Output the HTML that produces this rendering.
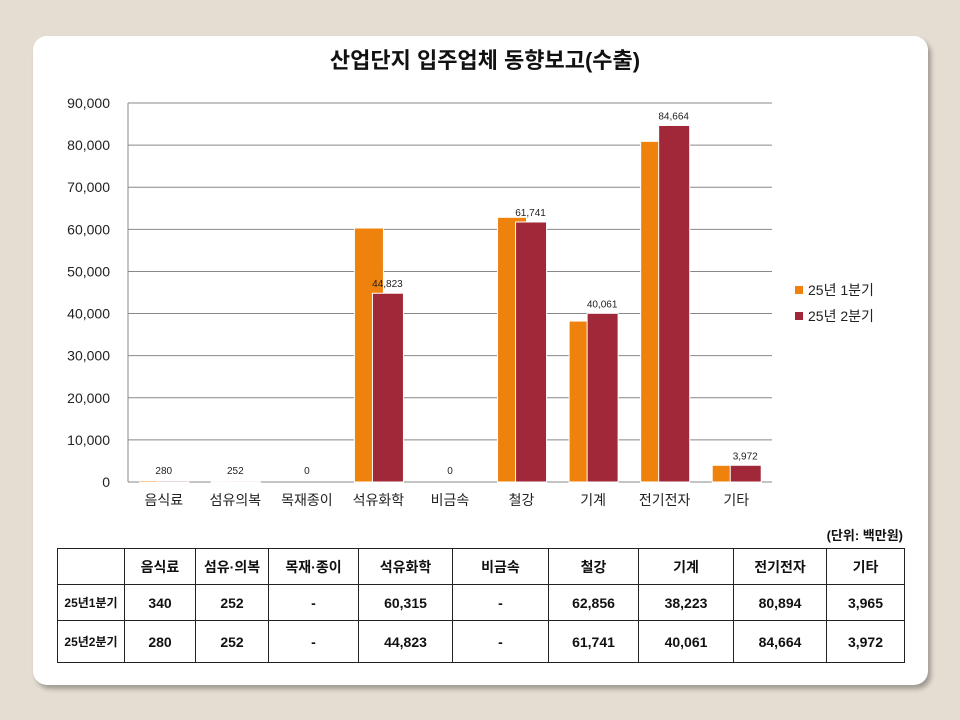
<!DOCTYPE html>
<html><head><meta charset="utf-8"><style>
body{margin:0;width:960px;height:720px;background:#e4ddd2;position:relative;overflow:hidden;font-family:"Liberation Sans","Noto Sans CJK KR",sans-serif}
.card{position:absolute;left:33px;top:36px;width:895px;height:649px;background:#fff;border-radius:14px;box-shadow:3px 4px 5px rgba(0,0,0,.3)}
table{position:absolute;left:57px;top:548px;border-collapse:collapse;font-family:"Liberation Sans","Noto Sans CJK KR",sans-serif}
td{border:1px solid #222;text-align:center;padding:0;font-size:14px;font-weight:bold;color:#111}
</style></head><body>
<div class="card"></div>
<svg width="960" height="720" style="position:absolute;left:0;top:0" id="chart">
<text x="485" y="68" text-anchor="middle" font-size="22" font-weight="bold" fill="#111">산업단지 입주업체 동향보고(수출)</text>
<g id="grid"></g><g id="bars"></g><g id="labels"></g>
<rect x="795" y="286" width="8" height="8" fill="#ee820d"/>
<text x="808" y="295" font-size="14" fill="#222">25년 1분기</text>
<rect x="795" y="312" width="8" height="8" fill="#a02838"/>
<text x="808" y="321" font-size="14" fill="#222">25년 2분기</text>
<text x="903" y="540" text-anchor="end" font-size="13" font-weight="bold" fill="#111">(단위: 백만원)</text>
</svg>
<table>
<tr style="height:36px"><td style="width:66px"></td><td style="width:70px">음식료</td><td style="width:72px">섬유·의복</td><td style="width:89px">목재·종이</td><td style="width:93px">석유화학</td><td style="width:95px">비금속</td><td style="width:89px">철강</td><td style="width:94px">기계</td><td style="width:92px">전기전자</td><td style="width:77px">기타</td></tr>
<tr style="height:36px"><td style="font-size:12px">25년1분기</td><td>340</td><td>252</td><td>-</td><td>60,315</td><td>-</td><td>62,856</td><td>38,223</td><td>80,894</td><td>3,965</td></tr>
<tr style="height:42px"><td style="font-size:12px">25년2분기</td><td>280</td><td>252</td><td>-</td><td>44,823</td><td>-</td><td>61,741</td><td>40,061</td><td>84,664</td><td>3,972</td></tr>
</table>
<script>
const categories=["음식료","섬유의복","목재종이","석유화학","비금속","철강","기계","전기전자","기타"];
const q1Values=[340,252,0,60315,0,62856,38223,80894,3965];
const q2Values=[280,252,0,44823,0,61741,40061,84664,3972];
const q2Labels=["280","252","0","44,823","0","61,741","40,061","84,664","3,972"];
const yTicks=[0,10000,20000,30000,40000,50000,60000,70000,80000,90000];
const yTickLabels=["0","10,000","20,000","30,000","40,000","50,000","60,000","70,000","80,000","90,000"];
const NS="http://www.w3.org/2000/svg";
const X0=128,X1=772,Y0=482,Y1=103,MAX=90000;
const y=v=>Y0-(v/MAX)*(Y0-Y1);
const cx=i=>X0+(i+0.5)*(X1-X0)/categories.length;
function mk(t,a,p){const e=document.createElementNS(NS,t);for(const k in a)e.setAttribute(k,a[k]);p.appendChild(e);return e;}
const grid=document.getElementById('grid'),bars=document.getElementById('bars'),labels=document.getElementById('labels');
yTicks.forEach((v,i)=>{
 const l=mk('line',{x1:X0,x2:X1,y1:y(v),y2:y(v),stroke:'#888','stroke-width':1},grid);
 
 
 const t=mk('text',{x:110,y:y(v)+5,'text-anchor':'end','font-size':14,fill:'#222'},grid);
 t.textContent=yTickLabels[i];
 
 
});
const ax=mk('line',{x1:X0,x2:X0,y1:Y1,y2:Y0,stroke:'#888'},grid);


categories.forEach((c,i)=>{
 const c0=cx(i);
 const h1=Y0-y(q1Values[i]),h2=Y0-y(q2Values[i]);
 if(q1Values[i]>0){const b=mk('rect',{x:c0-24,y:y(q1Values[i]),width:29,height:h1,fill:'#ee820d',stroke:'#fff','stroke-width':1},bars);
 
 }
 if(q2Values[i]>0){const b=mk('rect',{x:c0-6,y:y(q2Values[i]),width:31,height:h2,fill:'#a02838',stroke:'#fff','stroke-width':1},bars);
 
 }
 const ly=Math.min(y(q2Values[i])-6,474);
 const t=mk('text',{x:c0+(q2Values[i]>1000?9:0),y:ly,'text-anchor':'middle','font-size':10,fill:'#222'},labels);
 t.textContent=q2Labels[i];
 
 
 const xl=mk('text',{x:c0,y:505,'text-anchor':'middle','font-size':14,fill:'#222'},labels);
 xl.textContent=c;
 
 
});
</script>
</body></html>
